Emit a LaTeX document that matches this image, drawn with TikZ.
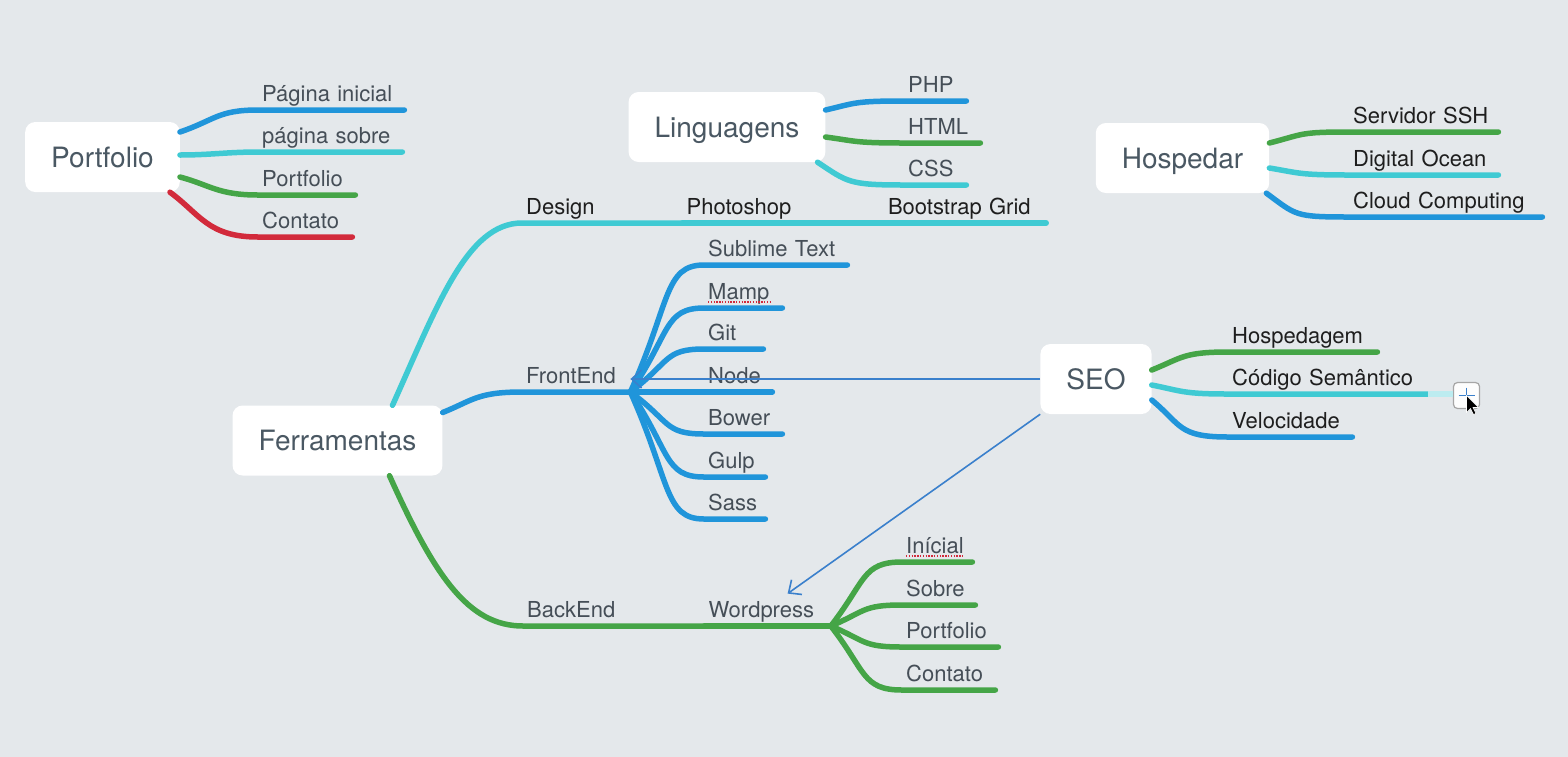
\documentclass[tikz,border=0pt]{standalone}
\usepackage{fontspec}
\setmainfont{TeX Gyre Heros}
\usetikzlibrary{arrows.meta}

\definecolor{bgcol}{HTML}{E4E8EB}
\definecolor{bluebr}{HTML}{2095DA}
\definecolor{cyanbr}{HTML}{3FCAD3}
\definecolor{greenbr}{HTML}{45A547}
\definecolor{redbr}{HTML}{D22A3B}
\definecolor{linkblue}{HTML}{3A80CC}
\definecolor{topicgray}{HTML}{4A5863}
\definecolor{leafgray}{HTML}{454E57}
\definecolor{leafdark}{HTML}{1E1E1E}

\newcommand{\leaffont}{\fontsize{22}{26}\selectfont}
\newcommand{\topicfont}{\fontsize{28}{32}\selectfont}

\tikzset{
  topic/.style={fill=white, rounded corners=10pt, minimum height=70pt, inner xsep=26pt,
    text depth=0pt, font=\topicfont, text=topicgray},
  leaf/.style={anchor=south west, inner xsep=4pt, inner ysep=3pt, text width=#1, align=left,
    text height=16pt, text depth=5pt, font=\leaffont, text=leafgray},
  darktext/.style={text=leafdark},
  branch/.style={line width=5.5pt, line cap=round},
  link/.style={draw=linkblue, line width=1.6pt, -{Straight Barb[length=10pt,width=18pt]}},
  spell/.style={redbr, line width=1.6pt, dash pattern=on 1.4pt off 1.4pt}
}

\begin{document}
\begin{tikzpicture}[x=1pt,y=-1pt]
\useasboundingbox (0,0) rectangle (1568,756);
\fill[bgcol] (-10,-10) rectangle (1578,766);

% main topics
\node[topic] (pf) at (102.5,157) {Portfolio};
\node[topic] (ling) at (727,127) {Linguagens};
\node[topic] (hosp) at (1182.5,158) {Hospedar};
\node[topic] (ferr) at (337.5,440.5) {Ferramentas};
\node[topic] (seo) at (1096,379) {SEO};

% Portfolio
\node[leaf=138pt] (paginicial) at (258,110) {Página inicial};
\node[leaf=136pt] (pagsobre) at (258,152) {página sobre};
\node[leaf=89pt] (pfport) at (258,195) {Portfolio};
\node[leaf=86pt] (pfcont) at (258,237) {Contato};
\draw[branch,bluebr] ([yshift=25pt]pf.east) .. controls +(35,-12) and +(-40,0) .. (paginicial.south west) -- (paginicial.south east);
\draw[branch,cyanbr] ([yshift=2pt]pf.east) .. controls +(30,0) and +(-30,0) .. (pagsobre.south west) -- (pagsobre.south east);
\draw[branch,greenbr] ([yshift=-20pt]pf.east) .. controls +(30,8) and +(-40,0) .. (pfport.south west) -- (pfport.south east);
\draw[branch,redbr] ([xshift=-10pt]pf.south east) .. controls +(30,22) and +(-50,0) .. (pfcont.south west) -- (pfcont.south east);

% Linguagens
\node[leaf=54pt] (php) at (904,101) {PHP};
\node[leaf=68pt] (html) at (904,143) {HTML};
\node[leaf=54pt] (css) at (904,185) {CSS};
\draw[branch,bluebr] ([yshift=17pt]ling.east) .. controls +(30,-7) and +(-50,0) .. (php.south west) -- (php.south east);
\draw[branch,greenbr] ([yshift=-10pt]ling.east) .. controls +(30,4) and +(-50,0) .. (html.south west) -- (html.south east);
\draw[branch,cyanbr] ([xshift=-8pt]ling.south east) .. controls +(30,20) and +(-55,0) .. (css.south west) -- (css.south east);

% Hospedar
\node[leaf=141pt,darktext] (ssh) at (1349,132) {Servidor SSH};
\node[leaf=141pt,darktext] (docean) at (1349,175) {Digital Ocean};
\node[leaf=185pt,darktext] (cloud) at (1349,217) {Cloud Computing};
\draw[branch,greenbr] ([yshift=15pt]hosp.east) .. controls +(35,-9) and +(-50,0) .. (ssh.south west) -- (ssh.south east);
\draw[branch,cyanbr] ([yshift=-10pt]hosp.east) .. controls +(30,5) and +(-50,0) .. (docean.south west) -- (docean.south east);
\draw[branch,bluebr] ([xshift=-3pt]hosp.south east) .. controls +(30,22) and +(-55,0) .. (cloud.south west) -- (cloud.south east);

% SEO
\node[leaf=141pt,darktext] (hospedagem) at (1228,352) {Hospedagem};
\node[leaf=192pt,darktext] (codigo) at (1228,394) {Código Semântico};
\node[leaf=116pt,darktext] (veloc) at (1228,437) {Velocidade};
\draw[branch,greenbr] ([yshift=9pt]seo.east) .. controls +(30,-12) and +(-45,0) .. (hospedagem.south west) -- (hospedagem.south east);
\draw[branch,cyanbr] ([yshift=-6pt]seo.east) .. controls +(30,6) and +(-45,0) .. (codigo.south west) -- (codigo.south east);
\draw[branch,bluebr] ([yshift=-21pt]seo.east) .. controls +(30,25) and +(-50,0) .. (veloc.south west) -- (veloc.south east);
\node[draw=gray!70, fill=white!92!bgcol, rounded corners=4pt, minimum size=26pt, line width=1.2pt] (plusbtn) at (1466.5,395.5) {};
\draw[branch,cyanbr!35,line cap=butt] (codigo.south east) -- (codigo.south east -| plusbtn.west);
\draw[linkblue, line width=1.8pt] (plusbtn.center) +(-8,0) -- +(8,0) (plusbtn.center) +(0,-8) -- +(0,8);
\fill[black, draw=white, line width=0.6pt] (plusbtn.center) -- ++(0,17) -- ++(4,-4) -- ++(3,6) -- ++(2.5,-1) -- ++(-3,-6) -- ++(5.5,0) -- cycle;

% Ferramentas
\node[leaf=152pt,darktext] (design) at (522,223) {Design};
\node[leaf=193pt,darktext] (photoshop) at (design.south east) {Photoshop};
\node[leaf=154pt,darktext] (bootstrap) at (photoshop.south east) {Bootstrap Grid};
\draw[branch,cyanbr] ([xshift=55pt]ferr.north) .. controls +(45,-100) and +(-55,0) .. (design.south west) -- (design.south east);
\draw[branch,cyanbr] (photoshop.south west) -- (photoshop.south east);
\draw[branch,cyanbr] (bootstrap.south west) -- (bootstrap.south east);

\node[leaf=100pt] (frontend) at (522,392) {FrontEnd};
\draw[branch,bluebr] ([yshift=28pt]ferr.east) .. controls +(30,-12) and +(-45,0) .. (frontend.south west) -- (frontend.south east);
\foreach \nm/\txt/\yy/\tw in {sublime/Sublime Text/265/135pt, mamp/Mamp/308/70pt, git/Git/349/51pt,
    nodetool/Node/392/60pt, bower/Bower/434/70pt, gulp/Gulp/477/53pt, sass/Sass/519/53pt}{
  \node[leaf=\tw] (\nm) at (704,\yy) {\txt};
  \pgfmathsetmacro{\dy}{0.7*(\yy-392)}
  \draw[branch,bluebr] (frontend.south east) .. controls +(40,\dy) and +(-40,0) .. (\nm.south west) -- (\nm.south east);
}

\node[leaf=173pt] (backend) at (523,626) {BackEnd};
\node[leaf=118pt] (wordpress) at (backend.south east) {Wordpress};
\draw[branch,greenbr] ([xshift=52pt]ferr.south) .. controls +(45,100) and +(-55,0) .. (backend.south west) -- (backend.south east);
\draw[branch,greenbr] (wordpress.south west) -- (wordpress.south east);
\foreach \nm/\txt/\yy/\tw in {inicial/Inícial/562/62pt, sobre/Sobre/605/65pt,
    wpport/Portfolio/647/88pt, wpcont/Contato/690/85pt}{
  \node[leaf=\tw] (\nm) at (902,\yy) {\txt};
  \pgfmathsetmacro{\dy}{0.7*(\yy-626)}
  \draw[branch,greenbr] (wordpress.south east) .. controls +(35,\dy) and +(-40,0) .. (\nm.south west) -- (\nm.south east);
}

% spell check marks
\draw[spell] ([xshift=4pt,yshift=-2pt]mamp.base west) -- ++(64,0);
\draw[spell] ([xshift=4pt,yshift=-2pt]inicial.base west) -- ++(58,0);

% links
\draw[link] (seo.west) -- (seo.west -| frontend.east);
\draw[link] (seo.south west) -- ([xshift=20pt,yshift=5pt]wordpress.north);
\end{tikzpicture}
\end{document}
